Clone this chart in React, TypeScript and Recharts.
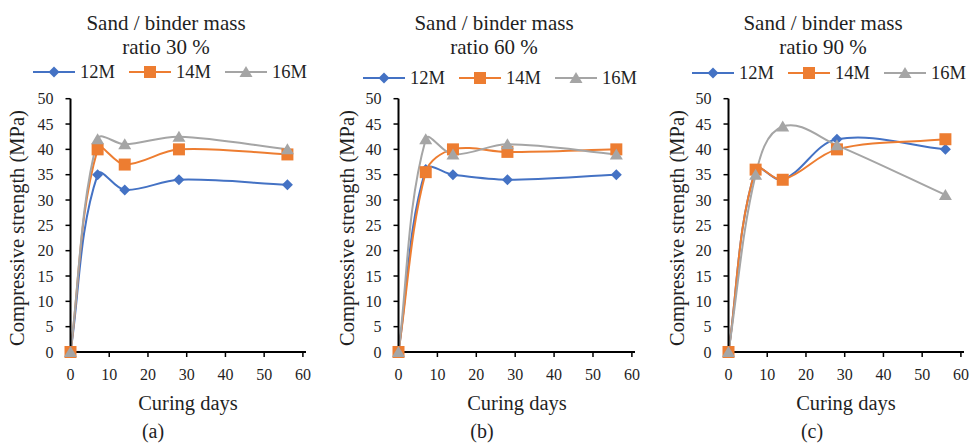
import React from 'react';
import { LineChart, Line, XAxis, YAxis } from 'recharts';

// ---------- data ----------
const days = [0, 7, 14, 28, 56];
const seriesNames = ['12M', '14M', '16M'];
const xTicks = [0, 10, 20, 30, 40, 50, 60];
const yTicks = [0, 5, 10, 15, 20, 25, 30, 35, 40, 45, 50];

const a12 = [0, 35, 32, 34, 33];
const a14 = [0, 40, 37, 40, 39];
const a16 = [0, 42, 41, 42.5, 40];

const b12 = [0, 36, 35, 34, 35];
const b14 = [0, 35.5, 40, 39.5, 40];
const b16 = [0, 42, 39, 41, 39];

const c12 = [0, 36, 34, 42, 40];
const c14 = [0, 36, 34, 40, 42];
const c16 = [0, 35, 44.5, 40.8, 31];

const panelTitles = ['ratio 30 %', 'ratio 60 %', 'ratio 90 %'];
const panelLetters = ['(a)', '(b)', '(c)'];

// ---------- style ----------
const FONT = '"Liberation Serif", "Times New Roman", serif';
const COLORS = ['#4472C4', '#ED7D31', '#A5A5A5'];
const TEXT = '#1f1f1f';

const build = (s12: number[], s14: number[], s16: number[]) =>
  days.map((d, i) => ({ day: d, m12: s12[i], m14: s14[i], m16: s16[i] }));

const panels = [
  { data: build(a12, a14, a16), left: 0, yw: 70.5, right: 24, legendLeft: 33, legendY: 72, titleX: 166, yLabelX: 17, cdX: 188, letterX: 153 },
  { data: build(b12, b14, b16), left: 330, yw: 68.5, right: 25, legendLeft: 33, legendY: 78, titleX: 164, yLabelX: 17, cdX: 187, letterX: 152 },
  { data: build(c12, c14, c16), left: 650, yw: 78.5, right: 16, legendLeft: 42, legendY: 73, titleX: 173, yLabelX: 27, cdX: 196, letterX: 162 },
];

// Excel-like smoothed line: tangent parallel to neighbour chord, handle = 1/3 of local chord
const excelSmooth = (context: any) => {
  let xs: number[] = [];
  let ys: number[] = [];
  return {
    areaStart() {},
    areaEnd() {},
    lineStart() {
      xs = [];
      ys = [];
    },
    point(x: number, y: number) {
      xs.push(+x);
      ys.push(+y);
    },
    lineEnd() {
      const n = xs.length;
      if (!n) return;
      context.moveTo(xs[0], ys[0]);
      const tan = (i: number) => {
        const i0 = Math.max(i - 1, 0);
        const i2 = Math.min(i + 1, n - 1);
        const dx = xs[i2] - xs[i0];
        const dy = ys[i2] - ys[i0];
        const l = Math.hypot(dx, dy) || 1;
        return [dx / l, dy / l];
      };
      for (let i = 0; i < n - 1; i++) {
        const d = Math.hypot(xs[i + 1] - xs[i], ys[i + 1] - ys[i]) / 3;
        const t1 = tan(i);
        const t2 = tan(i + 1);
        context.bezierCurveTo(
          xs[i] + t1[0] * d,
          ys[i] + t1[1] * d,
          xs[i + 1] - t2[0] * d,
          ys[i + 1] - t2[1] * d,
          xs[i + 1],
          ys[i + 1]
        );
      }
    },
  };
};

const markerPath = (kind: number, cx: number, cy: number) => {
  if (kind === 0) {
    const r = 5.5;
    return `M${cx},${cy - r}L${cx + r},${cy}L${cx},${cy + r}L${cx - r},${cy}Z`;
  }
  if (kind === 1) {
    const r = 6;
    return `M${cx - r},${cy - r}H${cx + r}V${cy + r}H${cx - r}Z`;
  }
  const w = 6.5;
  return `M${cx},${cy - 6}L${cx + w},${cy + 5}L${cx - w},${cy + 5}Z`;
};

const makeDot = (kind: number) => (props: any) => {
  const { cx, cy, index } = props;
  if (cx == null || cy == null) return <g key={`n${kind}-${index}`} />;
  return <path key={`d${kind}-${index}`} d={markerPath(kind, cx, cy)} fill={COLORS[kind]} stroke="none" />;
};

const LegendRow = ({ left, y }: { left: number; y: number }) => (
  <div
    style={{
      position: 'absolute',
      left,
      top: y - 12,
      height: 24,
      display: 'flex',
      alignItems: 'center',
      gap: 14,
      fontFamily: FONT,
      fontSize: 18.5,
      color: TEXT,
      whiteSpace: 'nowrap',
    }}
  >
    {seriesNames.map((name, k) => (
      <div key={name} style={{ display: 'flex', alignItems: 'center' }}>
        <svg width={42} height={14} style={{ display: 'block' }}>
          <line x1={0} y1={7} x2={42} y2={7} stroke={COLORS[k]} strokeWidth={2} />
          <path d={markerPath(k, 21, 7)} fill={COLORS[k]} />
        </svg>
        <span style={{ marginLeft: 5, lineHeight: '24px' }}>{name}</span>
      </div>
    ))}
  </div>
);

const Panel = ({ p, idx }: { p: (typeof panels)[number]; idx: number }) => (
  <div style={{ position: 'absolute', left: p.left, top: 0, width: 330, height: 444 }}>
    <div
      style={{
        position: 'absolute',
        left: p.titleX - 150,
        top: 11,
        width: 300,
        textAlign: 'center',
        fontFamily: FONT,
        fontSize: 21,
        lineHeight: '24px',
        color: TEXT,
      }}
    >
      <div>Sand / binder mass</div>
      <div>{panelTitles[idx]}</div>
    </div>
    <LegendRow left={p.legendLeft} y={p.legendY} />
    <div style={{ position: 'absolute', left: 0, top: 0 }}>
      <LineChart
        width={330}
        height={444}
        data={p.data}
        margin={{ top: 98.7, right: p.right, bottom: 62, left: 0 }}
      >
        <XAxis
          dataKey="day"
          type="number"
          domain={[0, 60.8]}
          ticks={xTicks}
          interval={0}
          height={30}
          tickSize={5}
          tickMargin={12}
          axisLine={{ stroke: '#000', strokeWidth: 2 }}
          tickLine={{ stroke: '#000', strokeWidth: 1.5 }}
          tick={{ fill: TEXT, fontSize: 16, fontFamily: FONT }}
        />
        <YAxis
          type="number"
          domain={[0, 50]}
          ticks={yTicks}
          interval={0}
          width={p.yw}
          tickSize={5}
          tickMargin={12}
          axisLine={{ stroke: '#000', strokeWidth: 2 }}
          tickLine={{ stroke: '#000', strokeWidth: 1.5 }}
          tick={{ fill: TEXT, fontSize: 16, fontFamily: FONT }}
        />
        {['m12', 'm14', 'm16'].map((key, k) => (
          <Line
            key={key}
            dataKey={key}
            name={seriesNames[k]}
            type={excelSmooth as any}
            stroke={COLORS[k]}
            strokeWidth={2}
            dot={makeDot(k)}
            activeDot={false}
            isAnimationActive={false}
          />
        ))}
      </LineChart>
    </div>
    <div
      style={{
        position: 'absolute',
        left: p.yLabelX - 150,
        top: 228 - 12,
        width: 300,
        height: 24,
        lineHeight: '24px',
        textAlign: 'center',
        transform: 'rotate(-90deg)',
        fontFamily: FONT,
        fontSize: 20.5,
        color: TEXT,
        whiteSpace: 'nowrap',
      }}
    >
      Compressive strength (MPa)
    </div>
    <div
      style={{
        position: 'absolute',
        left: p.cdX - 100,
        top: 403 - 12,
        width: 200,
        lineHeight: '24px',
        textAlign: 'center',
        fontFamily: FONT,
        fontSize: 20.5,
        color: TEXT,
      }}
    >
      Curing days
    </div>
    <div
      style={{
        position: 'absolute',
        left: p.letterX - 50,
        top: 431 - 12,
        width: 100,
        lineHeight: '24px',
        textAlign: 'center',
        fontFamily: FONT,
        fontSize: 20,
        color: TEXT,
      }}
    >
      {panelLetters[idx]}
    </div>
  </div>
);

export default function App() {
  return (
    <div
      style={{
        position: 'absolute',
        left: 0,
        top: 0,
        width: 980,
        height: 444,
        background: '#fff',
        overflow: 'hidden',
      }}
    >
      {panels.map((p, i) => (
        <Panel key={i} p={p} idx={i} />
      ))}
    </div>
  );
}
